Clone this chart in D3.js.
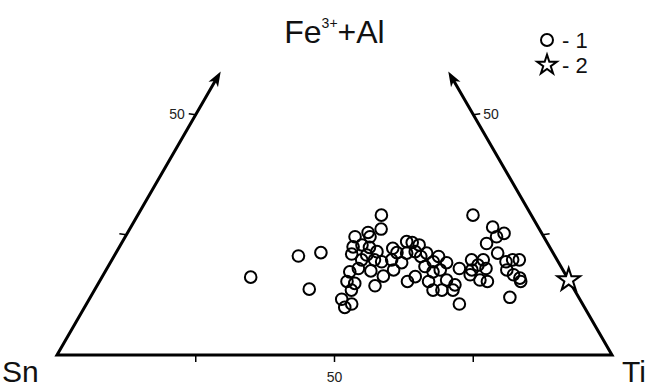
<!DOCTYPE html>
<html><head><meta charset="utf-8">
<script src="https://cdn.jsdelivr.net/npm/d3@7"></script>
<style>html,body{margin:0;padding:0;background:#fff;}svg{display:block;font-family:"Liberation Sans",Arial,sans-serif;}</style>
</head><body>
<script>
// Ternary compositions (percent): Ti and Fe3+ + Al; Sn = 100 - Ti - Fe
const group1Ti = [26.8,33.2,36.9,38.6,43.9,45.3,41.4,43.3,44.1,42.1,43.5,45.1,46.9,42.6,45.0,47.3,45.4,48.8,44.1,45.3,47.8,50.6,44.6,46.2,46.3,50.1,45.5,46.9,47.8,49.4,50.6,50.4,52.5,51.8,
  60.4,65.2,67.9,66.9,65.8,51.2,52.3,53.8,52.4,53.8,55.3,56.0,58.5,58.1,60.6,60.2,59.1,57.1,56.4,55.5,59.3,61.0,62.6,62.4,64.4,64.6,63.5,64.8,66.5,66.9,68.3,66.1,68.4,69.9,65.9,68.8,71.2,72.2,73.4,72.2,73.9,75.4,75.9,75.6,67.2];
const group1Fe = [16.2,20.6,21.3,13.7,29.1,26.2,24.6,25.5,24.6,22.5,22.9,22.4,21.5,21.0,19.8,19.8,20.8,19.4,17.3,18.0,17.5,16.4,15.3,14.9,13.5,14.4,11.6,9.9,10.6,22.2,21.3,19.8,19.2,17.7,
  29.1,26.6,25.3,24.6,23.2,23.6,23.4,22.9,21.2,21.5,20.5,21.2,20.5,19.4,19.2,17.7,17.3,18.4,16.3,15.3,15.3,13.5,13.5,15.6,14.6,13.5,18.0,19.8,18.7,19.8,18.0,16.7,15.6,15.3,17.7,21.2,19.4,19.8,19.8,17.7,16.7,16.0,15.3,12.0,10.6];
const group2Ti = [84.4];
const group2Fe = [15.6];
const sideTicks = [25, 50];
const bottomTicks = [25, 50, 75];
const labeledTick = 50;
const corners = ["Sn", "Ti"];
const legendLabels = ["- 1", "- 2"];
const arrowEnd = 59;

const W = 654, H = 389;
const svg = d3.select("body").append("svg").attr("width", W).attr("height", H);

const xs = d3.scaleLinear().domain([0, 100]).range([57, 612]);
const ys = d3.scaleLinear().domain([0, 100]).range([355, 355 - 555 * Math.sqrt(3) / 2]);
const px = (ti, fe) => xs(ti + fe / 2);
const py = fe => ys(fe);

// frame
const lt = [px(0, arrowEnd), py(arrowEnd)];
const rt = [px(100 - arrowEnd, arrowEnd), py(arrowEnd)];
const sn = [px(0, 0), py(0)], tiC = [px(100, 0), py(0)];
const shorten = (a, b, d) => { const dx = a[0]-b[0], dy = a[1]-b[1], L = Math.hypot(dx, dy); return [a[0]-dx/L*d, a[1]-dy/L*d]; };
const ltS = shorten(lt, sn, 8), rtS = shorten(rt, tiC, 8);
svg.append("path").attr("d", d3.line()([ltS, sn, tiC, rtS]))
  .attr("fill", "none").attr("stroke", "#000").attr("stroke-width", 3).attr("stroke-linejoin", "miter");

function arrowHead(tip, from) {
  const dx = tip[0]-from[0], dy = tip[1]-from[1], L = Math.hypot(dx, dy);
  const ux = dx/L, uy = dy/L, nx = -uy, ny = ux;
  const len = 15, w = 5.5, back = 11;
  const b1 = [tip[0]-ux*len+nx*w, tip[1]-uy*len+ny*w];
  const b2 = [tip[0]-ux*len-nx*w, tip[1]-uy*len-ny*w];
  const m = [tip[0]-ux*back, tip[1]-uy*back];
  svg.append("path").attr("d", "M" + [tip, b1, m, b2].map(p => p.join(",")).join("L") + "Z").attr("fill", "#000");
}
arrowHead(lt, sn);
arrowHead(rt, tiC);

// ticks
const tickLen = 7;
sideTicks.forEach(v => {
  const x0 = px(0, v), y0 = py(v);
  svg.append("line").attr("x1", x0).attr("y1", y0).attr("x2", x0 - tickLen).attr("y2", y0 - 1).attr("stroke", "#000").attr("stroke-width", 1.5);
  const x1 = px(100 - v, v);
  svg.append("line").attr("x1", x1).attr("y1", y0).attr("x2", x1 + tickLen).attr("y2", y0 - 1).attr("stroke", "#000").attr("stroke-width", 1.5);
  if (v === labeledTick) {
    svg.append("text").attr("x", x0 - tickLen - 4).attr("y", y0 + 4).attr("text-anchor", "end").attr("font-size", 14).attr("fill", "#222").text(v);
    svg.append("text").attr("x", x1 + tickLen + 3).attr("y", y0 + 4).attr("text-anchor", "start").attr("font-size", 14).attr("fill", "#222").text(v);
  }
});
bottomTicks.forEach(v => {
  const x0 = px(v, 0), y0 = py(0);
  svg.append("line").attr("x1", x0).attr("y1", y0).attr("x2", x0).attr("y2", y0 + tickLen).attr("stroke", "#000").attr("stroke-width", 1.5);
  if (v === labeledTick)
    svg.append("text").attr("x", x0).attr("y", y0 + 27).attr("text-anchor", "middle").attr("font-size", 14).attr("fill", "#222").text(v);
});

// corner labels
svg.append("text").attr("x", 2).attr("y", 382).attr("font-size", 30).attr("fill", "#111").text(corners[0]);
svg.append("text").attr("x", 622).attr("y", 382).attr("font-size", 30).attr("fill", "#111").text(corners[1]);
const titleText = svg.append("text").attr("x", 334.5).attr("y", 43).attr("text-anchor", "middle").attr("font-size", 32).attr("fill", "#111");
titleText.append("tspan").text("Fe");
titleText.append("tspan").attr("font-size", 14).attr("dy", -15).text("3+");
titleText.append("tspan").attr("dy", 15).text("+Al");

// points
const g1 = group1Ti.map((t, i) => [t, group1Fe[i]]);
svg.append("g").selectAll("circle").data(g1).join("circle")
  .attr("cx", d => px(d[0], d[1])).attr("cy", d => py(d[1])).attr("r", 5.8)
  .attr("fill", "none").attr("stroke", "#000").attr("stroke-width", 2);
const star = d3.symbol().type(d3.symbolStar).size(160);
const g2 = group2Ti.map((t, i) => [t, group2Fe[i]]);
svg.append("g").selectAll("path").data(g2).join("path")
  .attr("transform", d => `translate(${px(d[0], d[1])},${py(d[1])})`).attr("d", star)
  .attr("fill", "#fff").attr("stroke", "#000").attr("stroke-width", 2);

// legend
svg.append("circle").attr("cx", 547).attr("cy", 40).attr("r", 6).attr("fill", "none").attr("stroke", "#000").attr("stroke-width", 2);
svg.append("path").attr("transform", "translate(547,65)").attr("d", d3.symbol().type(d3.symbolStar).size(120)())
  .attr("fill", "#fff").attr("stroke", "#000").attr("stroke-width", 2);
svg.append("text").attr("x", 562).attr("y", 48).attr("font-size", 22).attr("fill", "#111").text(legendLabels[0]);
svg.append("text").attr("x", 562).attr("y", 73).attr("font-size", 22).attr("fill", "#111").text(legendLabels[1]);
</script>
</body></html>
